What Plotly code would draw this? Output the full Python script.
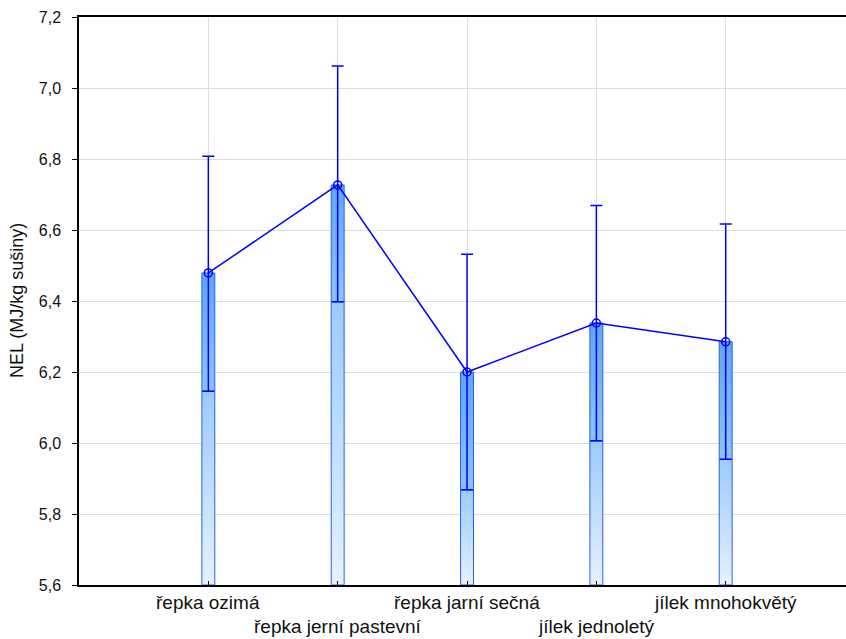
import plotly.graph_objects as go

categories = ["řepka ozimá", "řepka jerní pastevní", "řepka jarní sečná", "jílek jednoletý", "jílek mnohokvětý"]
means = [6.479, 6.727, 6.200, 6.338, 6.285]
upper = [6.808, 7.062, 6.532, 6.669, 6.617]
lower = [6.146, 6.398, 5.868, 6.006, 5.954]
y_ticks = [5.6, 5.8, 6.0, 6.2, 6.4, 6.6, 6.8, 7.0, 7.2]
y_title = "NEL (MJ/kg sušiny)"
y_min = 5.6
bar_half = 0.05

x = list(range(len(categories)))
err_plus = [u - m for u, m in zip(upper, means)]
err_minus = [m - l for m, l in zip(means, lower)]

fig = go.Figure()


def add_box(xc, y0, y1, c_bottom, c_top):
    fig.add_trace(go.Scatter(
        x=[xc - bar_half, xc + bar_half, xc + bar_half, xc - bar_half, xc - bar_half],
        y=[y0, y0, y1, y1, y0],
        mode="lines", fill="toself",
        fillgradient=dict(type="vertical", start=y0, stop=y1,
                          colorscale=[[0, c_bottom], [1, c_top]]),
        line=dict(color="#2a62e6", width=1),
        showlegend=False, hoverinfo="skip"))


for xc, lo, m in zip(x, lower, means):
    add_box(xc, y_min, lo, "#e6f2ff", "#9ccaff")
    add_box(xc, lo, m, "#8cc2ff", "#5ea6f6")

fig.add_trace(go.Scatter(
    x=x, y=means, mode="lines+markers",
    line=dict(color="#0000ff", width=1.5),
    marker=dict(symbol="circle-open", size=8, color="#0000ff", line=dict(width=1.5)),
    error_y=dict(type="data", array=err_plus, arrayminus=err_minus, symmetric=False,
                 color="#0000ff", thickness=1.5, width=6),
    showlegend=False, hoverinfo="skip"))

for i, (xc, label) in enumerate(zip(x, categories)):
    fig.add_annotation(x=xc, y=0, xref="x", yref="paper", text=label, showarrow=False,
                       xanchor="center", yanchor="top",
                       yshift=-5 if i % 2 == 0 else -29,
                       font=dict(size=19, color="#111"))

fig.add_annotation(x=0, y=0.5, xref="paper", yref="paper", text=y_title, showarrow=False,
                   textangle=-90, xanchor="center", yanchor="middle", xshift=-62,
                   font=dict(size=18, color="#111"))

fig.update_layout(
    width=846, height=639,
    margin=dict(l=79, r=0, t=17, b=54),
    paper_bgcolor="white", plot_bgcolor="white",
    separators=", ",
    font=dict(family="Liberation Sans, Arial, sans-serif", size=16, color="#111"),
    xaxis=dict(range=[-1, 4.93], tickmode="array", tickvals=x, ticktext=["" for _ in x],
               showgrid=True, gridcolor="#dddddd", gridwidth=1,
               showline=True, linecolor="black", linewidth=1.5, mirror=True,
               ticks="inside", ticklen=4, tickcolor="black", zeroline=False),
    yaxis=dict(range=[5.6, 7.2], tickmode="array", tickvals=y_ticks,
               ticktext=[f"{v:.1f}".replace(".", ",") for v in y_ticks],
               showgrid=True, gridcolor="#dddddd", gridwidth=1,
               showline=True, linecolor="black", linewidth=1.5,
               ticks="outside", ticklen=5, tickcolor="black", zeroline=False,
               ticklabelstandoff=8, automargin=False,
               tickfont=dict(size=16)),
)
fig.write_html("out.html",
               config={"displayModeBar": False, "responsive": False},
               post_script="document.body.style.margin='0';document.body.style.overflow='hidden';")
